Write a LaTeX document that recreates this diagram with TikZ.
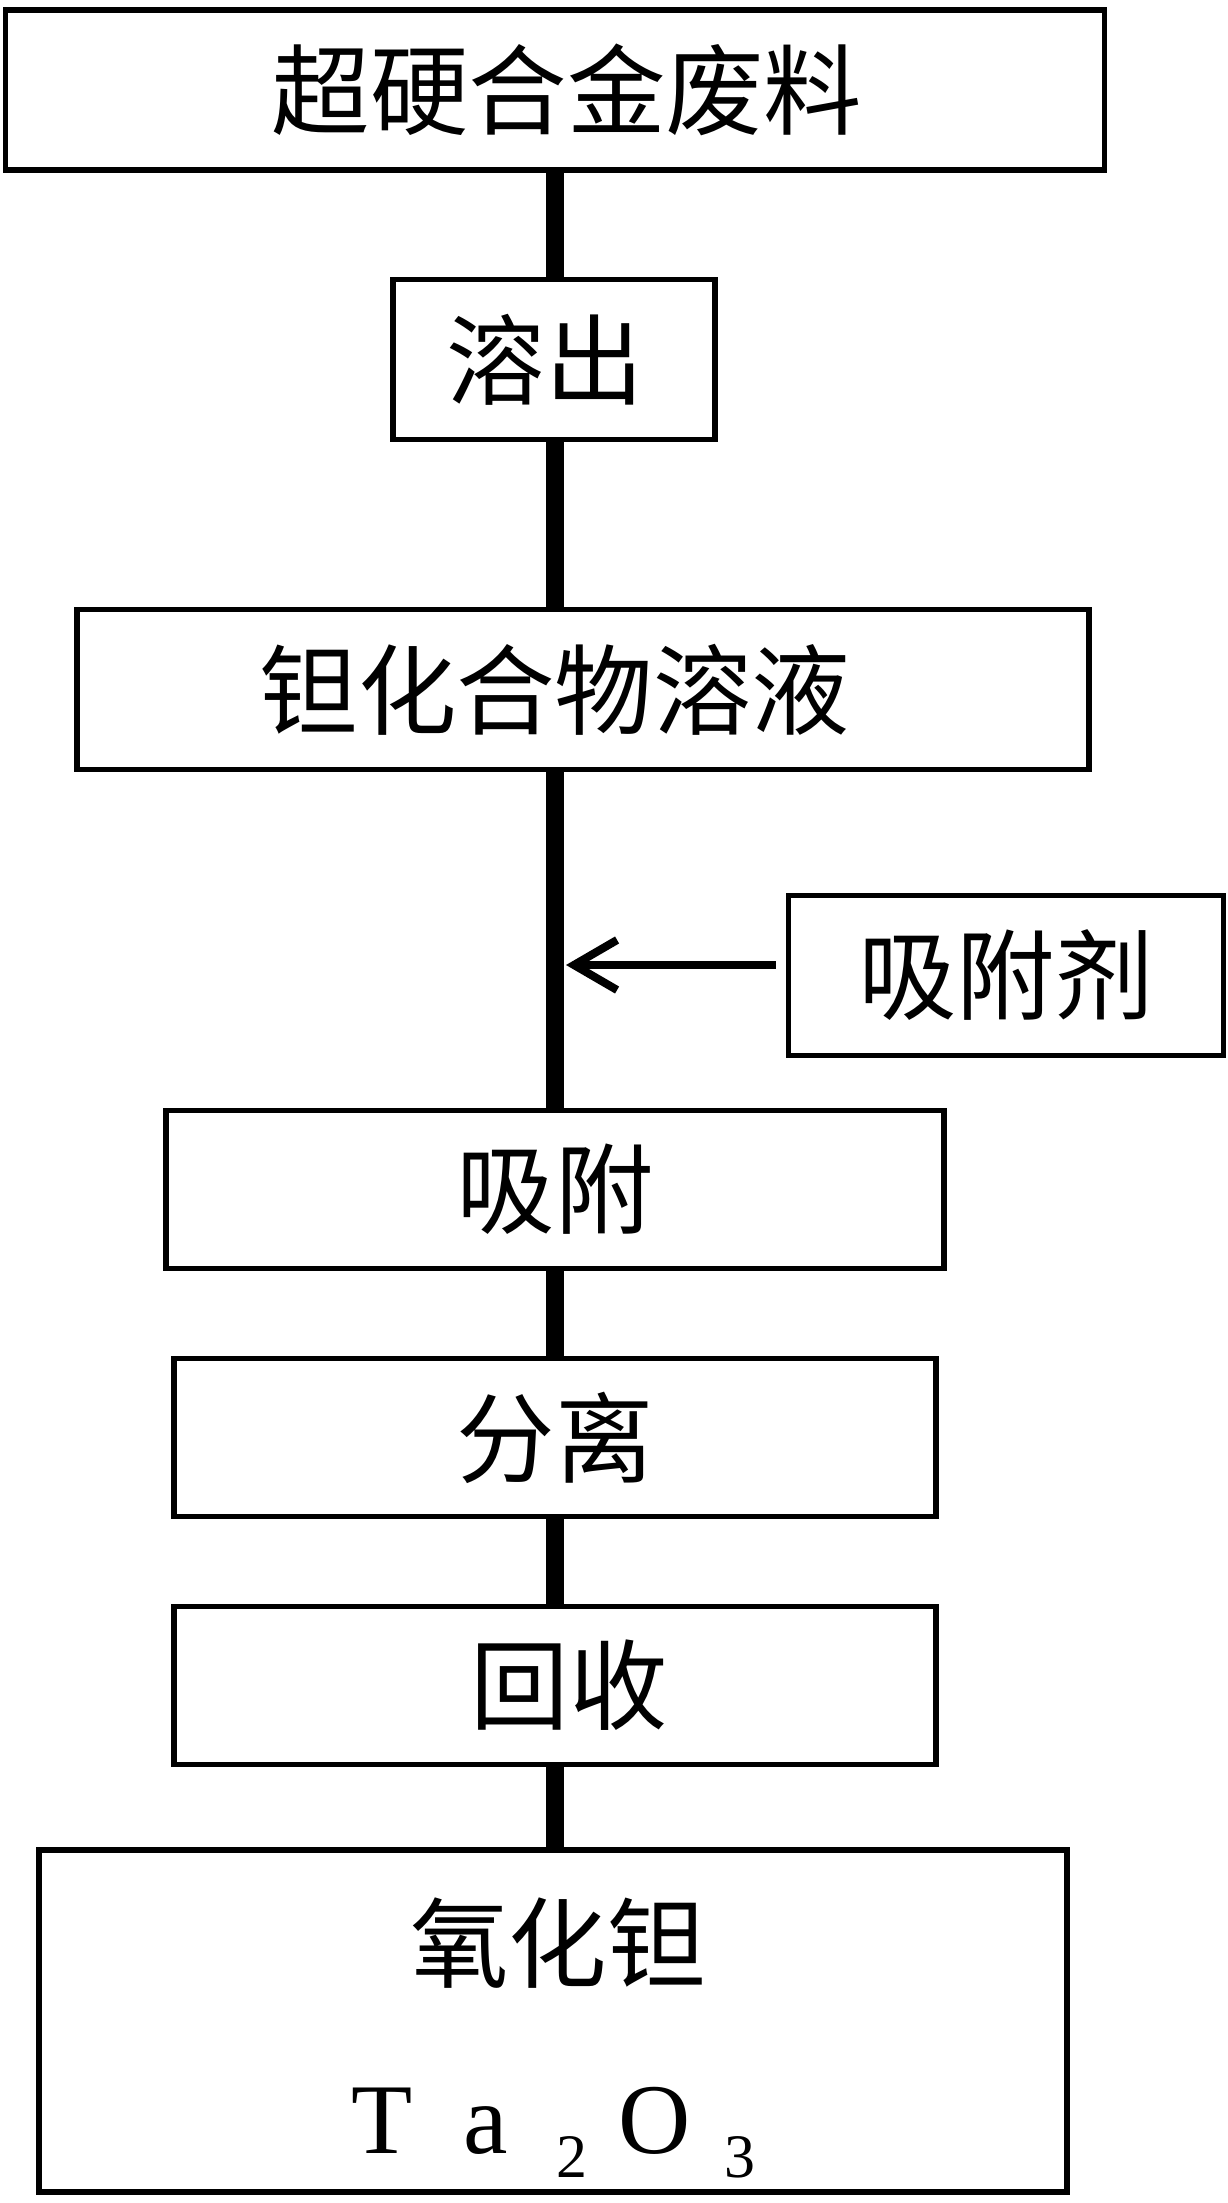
\documentclass[tikz,border=0pt]{standalone}
\usepackage{fontspec}
\setmainfont{Noto Sans CJK SC}
\newfontfamily\tafont{Liberation Serif}
\usetikzlibrary{arrows.meta}
\begin{document}
\begin{tikzpicture}[x=0.01cm,y=-0.01cm,
  box/.style={draw, line width=1.6pt, minimum height=1.60cm, inner sep=0pt, font=\fontsize{28}{34}\selectfont},
  trunk/.style={line width=5.1pt},
  feed/.style={line width=2.3pt, -{Straight Barb[length=4.3mm,width=5mm]}},
  lbl/.style={inner sep=0pt, font=\fontsize{28}{34}\selectfont}]
\useasboundingbox (0,0) rectangle (1228,2203);
\node[box, minimum width=10.98cm] (b1) at (555,90) {\hspace{0.24cm}超硬合金废料};
\node[box, minimum width=3.22cm] (b2) at (554,359.5) {溶出\hspace{0.18cm}\mbox{}};
\node[box, minimum width=10.11cm] (b3) at (583,689.5) {钽化合物溶液\hspace{0.56cm}\mbox{}};
\node[box, minimum width=4.35cm] (ads) at (1006,975.5) {吸附剂};
\node[box, minimum width=7.77cm, minimum height=1.58cm] (b4) at (555,1189.5) {吸附};
\node[box, minimum width=7.62cm, minimum height=1.58cm] (b5) at (555,1437.5) {分离};
\node[box, minimum width=7.62cm, minimum height=1.58cm] (b6) at (555,1685.5) {\hspace{0.28cm}回收};
\node[box, minimum width=10.27cm, minimum height=3.42cm] (b7) at (553,2021) {};
\node[lbl] (t7) at (558,1943) {氧化钽};
\node[lbl, anchor=base west, font=\tafont\fontsize{28.45}{34}\selectfont] (t8) at (351,2153)
  {T\hspace{0.51cm}a\hspace{0.48cm}\raisebox{-0.24cm}{\fontsize{17.6}{20}\selectfont 2}\hspace{0.31cm}O\hspace{0.34cm}\raisebox{-0.24cm}{\fontsize{17.6}{20}\selectfont 3}};
\coordinate (tip) at (566,965);
\draw[trunk] (b1.south) -- (b1.south |- b2.north);
\draw[trunk] (b1.south |- b2.south) -- (b1.south |- b3.north);
\draw[trunk] (b1.south |- b3.south) -- (b4.north);
\draw[trunk] (b4.south) -- (b5.north);
\draw[trunk] (b5.south) -- (b6.north);
\draw[trunk] (b6.south) -- (b6.south |- b7.north);
\draw[feed, shorten <=1mm] (ads.west |- tip) -- (tip);
\end{tikzpicture}
\end{document}
